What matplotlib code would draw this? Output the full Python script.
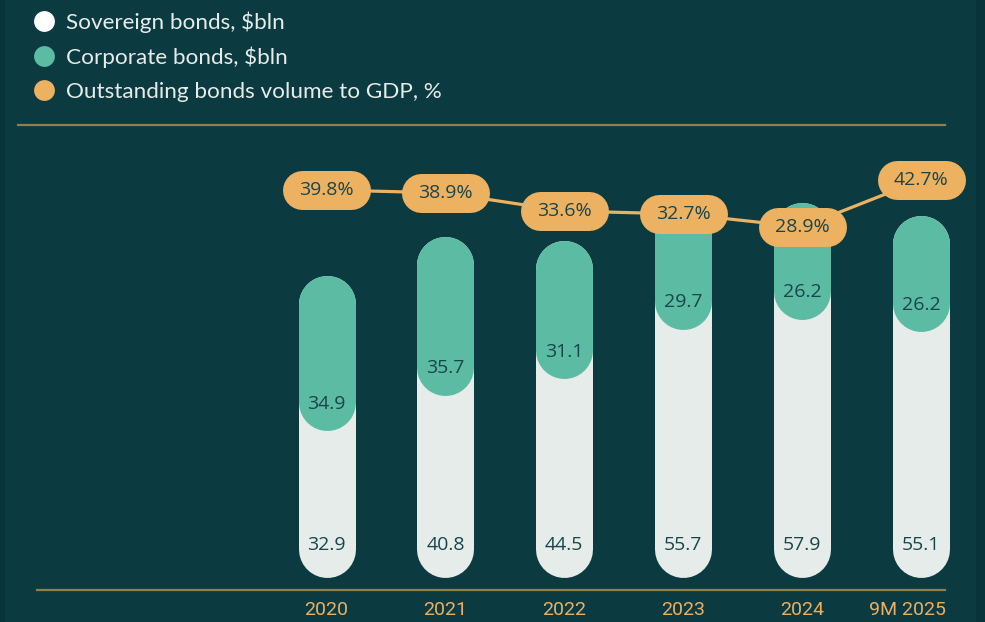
import matplotlib
matplotlib.use("Agg")
import matplotlib.pyplot as plt
from matplotlib.lines import Line2D
from matplotlib.transforms import ScaledTranslation

# data
years = ["2020", "2021", "2022", "2023", "2024", "9M 2025"]
sovereign = [32.9, 40.8, 44.5, 55.7, 57.9, 55.1]
corporate = [34.9, 35.7, 31.1, 29.7, 26.2, 26.2]
gdp_share = [39.8, 38.9, 33.6, 32.7, 28.9, 42.7]

BG = "#0c3a41"
WHITE = "#e6ecea"
GREEN = "#5bbba3"
ORANGE = "#ecb262"
GOLD = "#8f7f4c"
DARK = "#19454b"
TICK = "#e9b063"

W, H = 985, 622
plt.rcParams["font.family"] = ["Lato", "DejaVu Sans"]
NUMFONT = ["Open Sans", "DejaVu Sans"]

fig = plt.figure(figsize=(W / 100, H / 100), dpi=100)
fig.patch.set_facecolor(BG)

# pixel layout helpers
x0_px, step_px = 326.5, 118.9      # bar centre of first year, spacing
base_px, ypx = 577, 4.45           # bar bottom, px per $bln
axis_px = 590                      # baseline
xl = (-x0_px / step_px, (W - x0_px) / step_px)
px2pt = 72 / 100

ax = fig.add_axes([0, (H - axis_px) / H, 1, axis_px / H])
ax.set_facecolor(BG)
ax.set_xlim(*xl)
ax.set_ylim(-(axis_px - base_px) / ypx, base_px / ypx)

bar_px = 57
r = bar_px / 2 / ypx               # cap radius in $bln units
xs = list(range(len(years)))

# capsule bars: thick lines with round caps
for x, s, c in zip(xs, sovereign, corporate):
    tot = s + c
    ax.plot([x, x], [r, tot - r], color=WHITE, lw=bar_px * px2pt,
            solid_capstyle="round", zorder=2)
    ax.plot([x, x], [s + r, tot - r], color=GREEN, lw=bar_px * px2pt,
            solid_capstyle="round", zorder=3)
    ax.annotate(f"{s}", (x, 0), xytext=(0, 23), textcoords="offset points",
                ha="center", va="center", fontsize=14, color=DARK,
                family=NUMFONT, fontweight=500, zorder=5)
    ax.annotate(f"{c}", (x, s), xytext=(0, 19.5), textcoords="offset points",
                ha="center", va="center", fontsize=14, color=DARK,
                family=NUMFONT, fontweight=500, zorder=5)

ax.set_xticks(xs)
ax.set_xticklabels(years, family=["Roboto", "DejaVu Sans"])
ax.tick_params(axis="x", length=0, pad=8, labelsize=14, labelcolor=TICK)
last = ax.get_xticklabels()[-1]
last.set_transform(last.get_transform() + ScaledTranslation(-14 / 100, 0, fig.dpi_scale_trans))
ax.set_yticks([])
for sp in ["top", "left", "right"]:
    ax.spines[sp].set_visible(False)
ax.spines["bottom"].set_color(GOLD)
ax.spines["bottom"].set_linewidth(1.6)
ax.spines["bottom"].set_bounds(xl[0] + 37 / step_px, xl[0] + 945 / step_px)

# percent line on its own scale
ppx = 3.394
ax2 = ax.twinx()
ax2.set_ylim((325 - axis_px) / ppx, 325 / ppx)
ax2.set_yticks([])
for sp in ax2.spines.values():
    sp.set_visible(False)
ax2.plot(xs, gdp_share, color=ORANGE, lw=2.3, zorder=6)
pill_h = 39
dx = (88 - pill_h) / 2 / step_px
for x, v in zip(xs, gdp_share):
    ax2.plot([x - dx, x + dx], [v, v], color=ORANGE, lw=pill_h * px2pt,
             solid_capstyle="round", zorder=7)
    ax2.text(x, v, f"{v}%", ha="center", va="center", fontsize=14,
             color=DARK, family=NUMFONT, fontweight=500, zorder=8)

# legend
handles = [Line2D([], [], ls="none", marker="o", ms=15, mfc=c, mec="none")
           for c in ["#ffffff", GREEN, ORANGE]]
labels = ["Sovereign bonds, $bln", "Corporate bonds, $bln",
          "Outstanding bonds volume to GDP, %"]
fig.legend(handles, labels, loc="upper left", bbox_to_anchor=(19 / W, 1 + 2 / H),
           frameon=False, fontsize=16.2, labelcolor=WHITE, handlelength=1.0,
           handletextpad=0.5, labelspacing=0.6, borderpad=0.1)

# separator under legend and edge strips
fig.add_artist(Line2D([18 / W, 945 / W], [1 - 125 / H] * 2, color=GOLD, lw=1.6))
fig.patches.append(plt.Rectangle((0, 0), 5 / W, 1, transform=fig.transFigure,
                                 fc="#08333a", ec="none", zorder=0))
fig.patches.append(plt.Rectangle((976 / W, 0), 9 / W, 1, transform=fig.transFigure,
                                 fc="#08333a", ec="none", zorder=0))

fig.savefig("out.png", dpi=100, facecolor=BG)
